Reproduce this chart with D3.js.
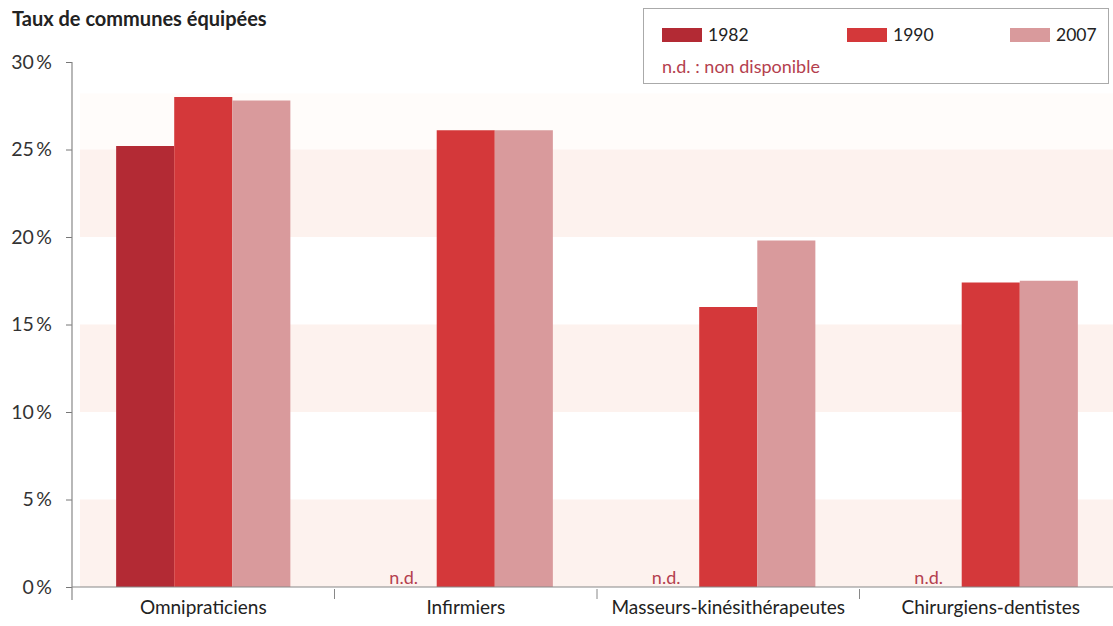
<!DOCTYPE html>
<html><head><meta charset="utf-8">
<script src="https://cdn.jsdelivr.net/npm/d3@7"></script>
<style>body{margin:0;background:#fff}svg{display:block}text{font-family:Lato,"Open Sans",sans-serif}</style>
</head><body>
<svg id="c" width="1113" height="626"></svg>
<script>
const categories = ["Omnipraticiens","Infirmiers","Masseurs-kinésithérapeutes","Chirurgiens-dentistes"];
const years = ["1982","1990","2007"];
const values1982 = [25.2, null, null, null];
const values1990 = [28.0, 26.1, 16.0, 17.4];
const values2007 = [27.8, 26.1, 19.8, 17.5];
const yTicks = [0,5,10,15,20,25,30];
const colors = ["#b32a34","#d4383a","#d99a9c"];

const svg = d3.select("#c");
const x0 = 72, x1 = 1122, yTop = 62, yBot = 587;
const x = d3.scaleBand().domain(categories).range([x0, x1]);
const xs = d3.scaleBand().domain(years).range([0, x.bandwidth()]).paddingOuter(0.76).paddingInner(0);
const y = d3.scaleLinear().domain([0,30]).range([yBot, yTop]);
const FF = "Lato,'Open Sans',sans-serif";

// background bands
const bands = [[0,5],[10,15],[20,25]];
svg.append("rect").attr("x",80).attr("y",y(28.2)).attr("width",1113-80).attr("height",y(25)-y(28.2)).attr("fill","#fffcfa");
svg.selectAll(".band").data(bands).join("rect")
  .attr("x",80).attr("width",1113-80)
  .attr("y",d=>y(d[1])).attr("height",d=>y(d[0])-y(d[1]))
  .attr("fill","#fdf2ee");

// bars
const series = [values1982, values1990, values2007];
years.forEach((yr,i)=>{
  svg.append("g").selectAll("rect").data(categories.map((c,j)=>({c,v:series[i][j]})).filter(d=>d.v!=null))
   .join("rect")
   .attr("x",d=>x(d.c)+xs(yr)).attr("width",xs.bandwidth())
   .attr("y",d=>y(d.v)).attr("height",d=>y(0)-y(d.v))
   .attr("fill",colors[i]);
});
// n.d. labels
categories.forEach((c,j)=>{
  if(values1982[j]==null){
    svg.append("text").attr("x",x(c)+xs("1982")+xs.bandwidth()/2-4).attr("y",yBot-3)
      .attr("text-anchor","middle").attr("font-size",18).attr("fill","#b4404e").text("n.d.");
  }
});

// y axis
const gy = svg.append("g").attr("transform",`translate(${x0},0)`)
  .call(d3.axisLeft(y).tickValues(yTicks).tickSize(6).tickFormat(d=>d+"\u2009%"));
gy.select(".domain").remove();
gy.selectAll(".tick line").attr("stroke","#777");
gy.selectAll(".tick text").attr("font-size",19.5).attr("fill","#333").attr("x",-20).attr("font-family",FF);
svg.append("line").attr("x1",x0).attr("x2",x0).attr("y1",yTop).attr("y2",600).attr("stroke","#888").attr("stroke-width",1.2);

// x axis
svg.append("line").attr("x1",x0).attr("x2",1113).attr("y1",yBot).attr("y2",yBot).attr("stroke","#888").attr("stroke-width",1.2);
const gx = svg.append("g").attr("transform",`translate(0,${yBot})`)
  .call(d3.axisBottom(x).tickSize(0).tickPadding(14));
gx.select(".domain").remove();
gx.selectAll(".tick text").attr("font-size",19).attr("fill","#222").attr("font-family",FF);
svg.selectAll(".sep").data(categories.slice(1)).join("line")
  .attr("x1",d=>x(d)).attr("x2",d=>x(d)).attr("y1",yBot+2).attr("y2",yBot+12).attr("stroke","#888");

// title
svg.append("text").attr("x",12).attr("y",26).attr("font-size",20).attr("font-weight","bold").attr("fill","#222").text("Taux de communes équipées");

// legend
svg.append("rect").attr("x",643.5).attr("y",8.5).attr("width",465).attr("height",75).attr("fill","#fff").attr("stroke","#aaa");
const lx = [662, 847, 1010];
years.forEach((yr,i)=>{
  svg.append("rect").attr("x",lx[i]).attr("y",28).attr("width",40).attr("height",14).attr("fill",colors[i]);
  svg.append("text").attr("x",lx[i]+46).attr("y",41).attr("font-size",17.5).attr("fill","#222").text(yr);
});
svg.append("text").attr("x",662).attr("y",73).attr("font-size",18).attr("fill","#b4404e").text("n.d. : non disponible");
</script>
</body></html>
